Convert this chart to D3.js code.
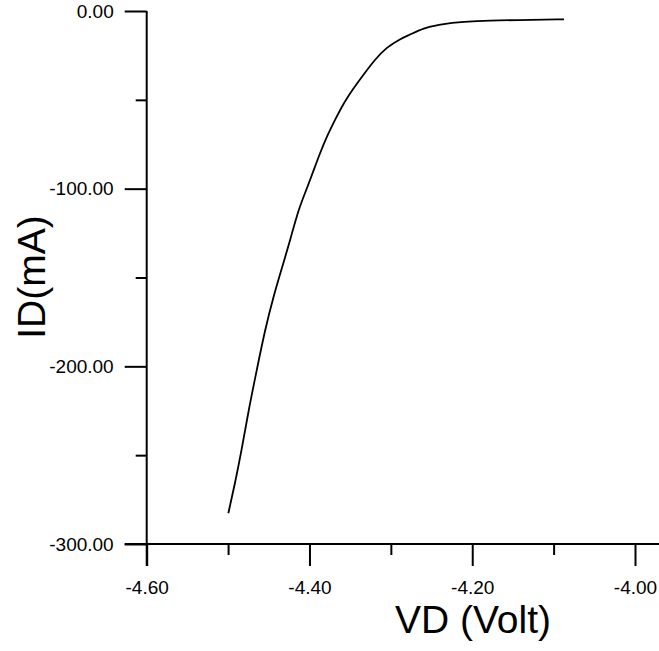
<!DOCTYPE html>
<html>
  <head>
    <meta charset="utf-8">
    <title>ID vs VD</title>
    <style type="text/css">
      body{
        margin: 0;
        background-color: white;
      }
      svg{
        display: block;
      }
      .tick text{
        font-family: "Liberation Sans", Arial, sans-serif;
        font-size: 19px;
        fill: black;
      }
      .title{
        font-family: "Liberation Sans", Arial, sans-serif;
        font-size: 39px;
        fill: black;
      }
    </style>
  </head>
  <body>
    <div id='svg_container'></div>

    <script src="https://d3js.org/d3.v7.min.js"></script>
    <script type="text/javascript">

      // curve
      const vd = [-4.4997, -4.4915, -4.4833, -4.4752, -4.4648, -4.4546, -4.4444, -4.4321, -4.4231, -4.4137,
                  -4.4034, -4.3932, -4.3871, -4.3788, -4.3686, -4.3563, -4.3339, -4.3195, -4.3051, -4.2888,
                  -4.2765, -4.2601, -4.2396, -4.2273, -4.1987, -4.1413, -4.0872];
      const id = [-282.7, -265.8, -247.1, -225.6, -202.1, -179.5, -160.8, -142.0, -127.9, -112.0,
                  -100.2, -87.6, -80.1, -70.7, -61.3, -50.1, -36.0, -27.3, -20.4, -15.8,
                  -13.3, -9.6, -7.7, -6.8, -5.5, -5.1, -4.7];

      const xMajor = [-4.6, -4.4, -4.2, -4.0];
      const xMinor = [-4.5, -4.3, -4.1];
      const yMajor = [0, -100, -200, -300];
      const yMinor = [-50, -150, -250];

      const w = 659;
      const h = 651;
      const plotLeft = 146.7;
      const plotTop = 11;
      const plotBottom = 544;
      const majorLen = 22;
      const minorLen = 11;

      const svg = d3.select('#svg_container').append('svg').attr('width', w).attr('height', h);

      const scaleX = d3.scaleLinear().domain([-4.6, -4.0]).range([plotLeft, 635]);
      const scaleY = d3.scaleLinear().domain([-300, 0]).range([plotBottom, plotTop]);

      // axis lines, crossing each other by a tick length
      svg.append('line').attr('x1', plotLeft - majorLen).attr('x2', w).attr('y1', plotBottom).attr('y2', plotBottom)
          .attr('stroke', 'black').attr('stroke-width', 2);
      svg.append('line').attr('x1', plotLeft).attr('x2', plotLeft).attr('y1', plotTop).attr('y2', plotBottom + majorLen)
          .attr('stroke', 'black').attr('stroke-width', 2);

      // plain hyphen for the minus sign, like the original
      const fmt = (d) => d.toFixed(2);

      const xAxis = d3.axisBottom(scaleX).tickValues(xMajor).tickSize(majorLen).tickSizeOuter(0)
          .tickPadding(15).tickFormat(fmt);
      const gx = svg.append('g').attr('transform', 'translate(0,' + plotBottom + ')').call(xAxis);
      gx.select('.domain').remove();
      gx.selectAll('.tick line').attr('stroke-width', 2);

      const xAxisMinor = d3.axisBottom(scaleX).tickValues(xMinor).tickSize(minorLen).tickSizeOuter(0).tickFormat('');
      const gxm = svg.append('g').attr('transform', 'translate(0,' + plotBottom + ')').call(xAxisMinor);
      gxm.select('.domain').remove();
      gxm.selectAll('.tick line').attr('stroke-width', 2);

      const yAxis = d3.axisLeft(scaleY).tickValues(yMajor).tickSize(majorLen).tickSizeOuter(0)
          .tickPadding(11).tickFormat(fmt);
      const gy = svg.append('g').attr('transform', 'translate(' + plotLeft + ',0)').call(yAxis);
      gy.select('.domain').remove();
      gy.selectAll('.tick line').attr('stroke-width', 2);

      const yAxisMinor = d3.axisLeft(scaleY).tickValues(yMinor).tickSize(minorLen).tickSizeOuter(0).tickFormat('');
      const gym = svg.append('g').attr('transform', 'translate(' + plotLeft + ',0)').call(yAxisMinor);
      gym.select('.domain').remove();
      gym.selectAll('.tick line').attr('stroke-width', 2);

      // curve
      const line = d3.line().x((d, i) => scaleX(vd[i])).y((d, i) => scaleY(id[i])).curve(d3.curveBasis);
      svg.append('path').datum(vd).attr('d', line).attr('fill', 'none')
          .attr('stroke', 'black').attr('stroke-width', 1.8);

      // axis titles
      svg.append('text').attr('class', 'title').text('VD (Volt)')
          .attr('x', 473).attr('y', 633).attr('text-anchor', 'middle');
      svg.append('text').attr('class', 'title').text('ID(mA)')
          .attr('transform', 'translate(45,277) rotate(-90)').attr('text-anchor', 'middle');

    </script>
  </body>
</html>
